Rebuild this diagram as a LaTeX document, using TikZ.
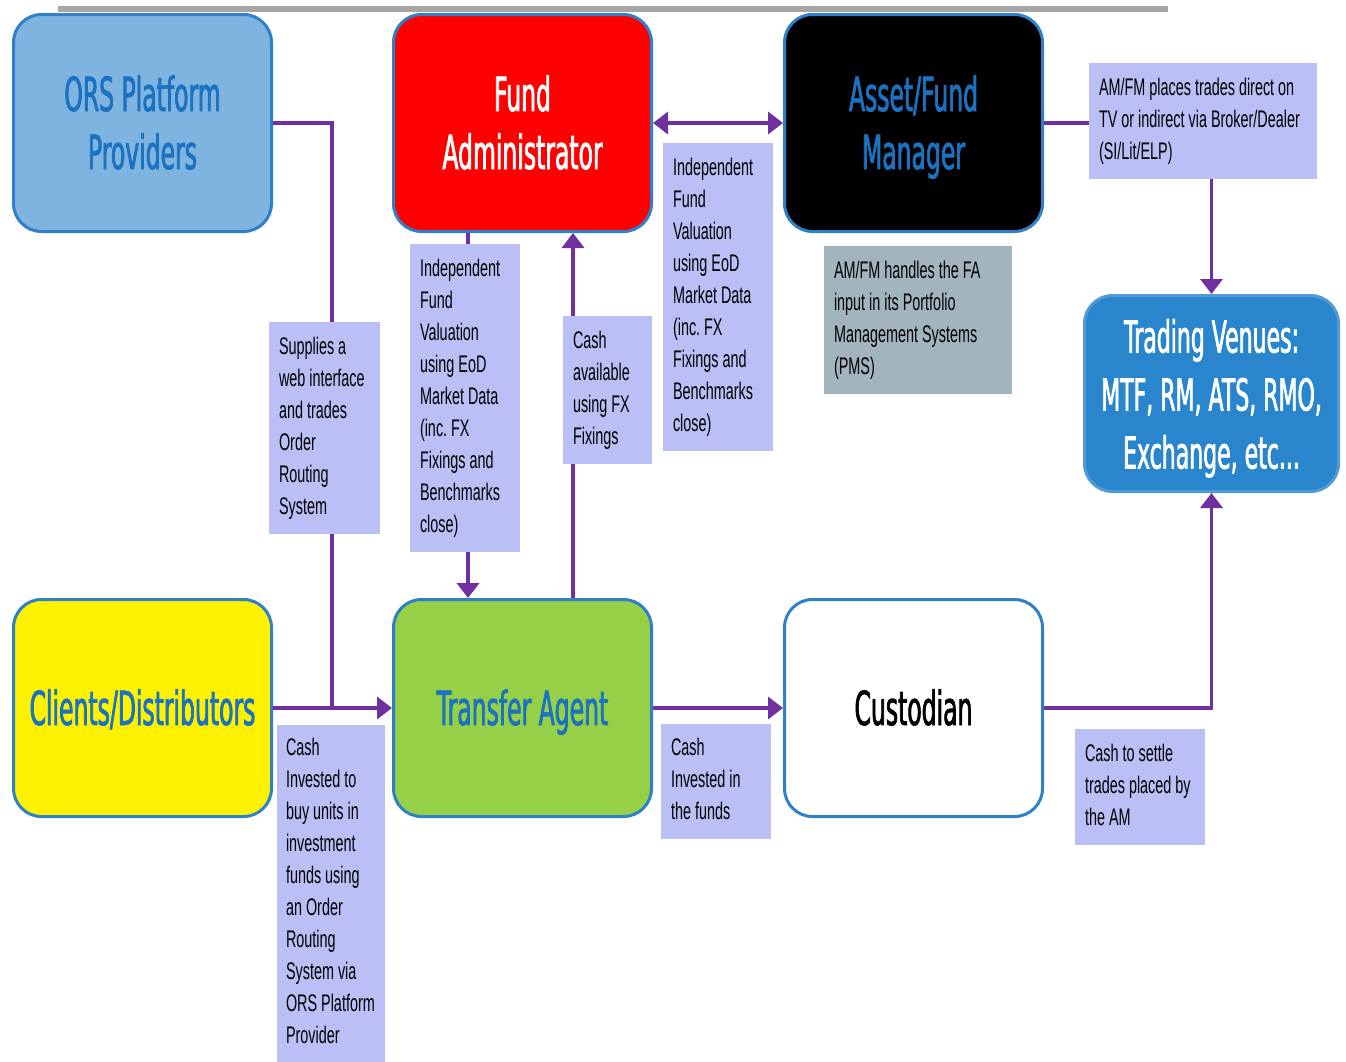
\documentclass[tikz,border=0pt]{standalone}
\usepackage{fontspec}
\usetikzlibrary{arrows.meta}
\newfontfamily\boxfont[FakeStretch=0.5,FakeBold=1.5]{DejaVu Sans}
\newfontfamily\notefont[FakeStretch=0.6]{Liberation Sans}
\definecolor{edgeblue}{RGB}{46,128,200}
\definecolor{txtblue}{RGB}{27,114,192}
\definecolor{orsfill}{RGB}{127,180,225}
\definecolor{tafill}{RGB}{150,208,70}
\definecolor{tvfill}{RGB}{41,134,204}
\definecolor{tvedge}{RGB}{80,155,215}
\definecolor{flow}{RGB}{112,48,160}
\definecolor{notefill}{RGB}{186,191,245}
\definecolor{pmsfill}{RGB}{162,181,190}
\definecolor{rulegray}{RGB}{166,166,166}
% symmetric strut so that capitals sit on the node centre
\newcommand\capstrut{\rule[-12pt]{0pt}{58pt}}
% stacked note lines with narrow word spaces, never re-broken
\newcommand\notelines[1]{\frenchspacing\spaceskip=4pt\relax\begin{tabular}{@{}l@{}}#1\end{tabular}}
\begin{document}
\begin{tikzpicture}[x=1pt,y=-1pt,
  entity/.style={draw=edgeblue, line width=3pt, rounded corners=28pt,
    minimum width=258pt, minimum height=217pt, align=center, inner sep=0pt,
    font=\boxfont\fontsize{47}{58}\selectfont},
  note/.style={fill=notefill, inner xsep=10pt, inner ysep=0pt, align=left,
    text=black, font=\notefont\fontsize{24}{32}\selectfont},
  conn/.style={draw=flow, line width=3.5pt},
  tip/.style={-{Triangle[length=15pt,width=22pt]}},
  dtip/.style={{Triangle[length=15pt,width=22pt]}-{Triangle[length=15pt,width=22pt]}}]

\fill[white] (0,0) rectangle (1346,1061);
\useasboundingbox (0,0) rectangle (1346,1061);

% top rule
\fill[rulegray] (58,6) rectangle (1168,12);

% actors
\node[entity, fill=orsfill, text=txtblue] (ors) at (142.5,123) {\capstrut ORS Platform\\\capstrut Providers};
\node[entity, fill=red, text=white] (fa) at (522.5,123) {\capstrut Fund\\\capstrut Administrator};
\node[entity, fill=black, text=txtblue] (am) at (913.5,123) {\capstrut Asset/Fund\\\capstrut Manager};
\node[entity, fill=yellow, text=txtblue] (cli) at (142.5,708) {\capstrut Clients/Distributors};
\node[entity, fill=tafill, text=txtblue] (ta) at (522.5,708) {\capstrut Transfer Agent};
\node[entity, fill=white, text=black] (cus) at (913.5,708) {\capstrut Custodian};
\node[entity, draw=tvedge, fill=tvfill, text=white, minimum width=254pt,
  minimum height=196pt, font=\boxfont\fontsize{44}{58}\selectfont] (tv) at (1211.5,393.5)
  {\capstrut Trading Venues:\\\capstrut MTF, RM, ATS, RMO,\\\capstrut Exchange, etc...};

% vertical guide positions
\coordinate (c332) at (332,0);
\coordinate (c468) at (468,0);
\coordinate (c573) at (573,0);

% flows
\draw[conn] (ors.east) -| (c332 |- cli.east);
\draw[conn, tip] (cli.east) -- (ta.west);
\draw[conn, tip] (fa.south -| c468) -- (ta.north -| c468);
\draw[conn, tip] (ta.north -| c573) -- (fa.south -| c573);
\draw[conn, dtip] (fa.east) -- (am.west);
\draw[conn, tip] (am.east) -| (tv.north);
\draw[conn, tip] (ta.east) -- (cus.west);
\draw[conn, tip] (cus.east) -| (tv.south);

% annotations
\node[note, text width=91pt, minimum height=212pt] (nsup) at (324.5,428)
  {\notelines{Supplies a\\web interface\\and trades\\Order\\Routing\\System}};
\node[note, text width=90pt, minimum height=308pt] (nfaval) at (465,398)
  {\notelines{Independent\\Fund\\Valuation\\using EoD\\Market Data\\(inc. FX\\Fixings and\\Benchmarks\\close)}};
\node[note, text width=69pt, minimum height=148pt] (nfx) at (607.5,390)
  {\notelines{Cash\\available\\using FX\\Fixings}};
\node[note, text width=90pt, minimum height=308pt] (namval) at (718,297)
  {\notelines{Independent\\Fund\\Valuation\\using EoD\\Market Data\\(inc. FX\\Fixings and\\Benchmarks\\close)}};
\node[note, text width=208pt, minimum height=116pt] (ntrades) at (1203,121)
  {\notelines{AM/FM places trades direct on\\TV or indirect via Broker/Dealer\\(SI/Lit/ELP)}};
\node[note, fill=pmsfill, text width=168pt, minimum height=148pt] (npms) at (918,320)
  {\notelines{AM/FM handles the FA\\input in its Portfolio\\Management Systems\\(PMS)}};
\node[note, inner xsep=9pt, text width=90pt, minimum height=337pt] (nbuy) at (331,893.5)
  {\notelines{Cash\\Invested to\\buy units in\\investment\\funds using\\an Order\\Routing\\System via\\ORS Platform\\Provider}};
\node[note, text width=90pt, minimum height=115pt] (nfunds) at (716,781.5)
  {\notelines{Cash\\Invested in\\the funds}};
\node[note, text width=110pt, minimum height=116pt] (nsettle) at (1140,787)
  {\notelines{Cash to settle\\trades placed by\\the AM}};
\end{tikzpicture}
\end{document}
